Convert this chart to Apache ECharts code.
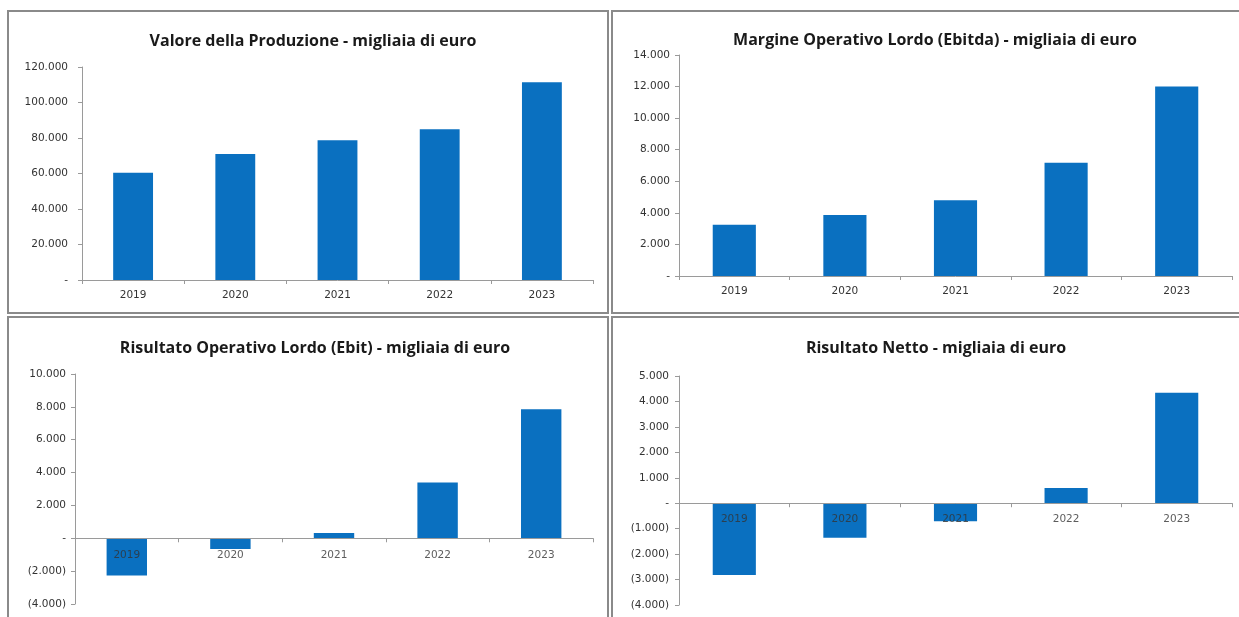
<!DOCTYPE html>
<html>
<head>
<meta charset="utf-8">
<script src="https://cdn.jsdelivr.net/npm/echarts@6/dist/echarts.min.js"></script>
<style>
html,body{margin:0;padding:0;background:#fff;}
#c{width:1239px;height:617px;}
</style>
</head>
<body>
<div id="c"></div>
<script>
const categories = ['2019','2020','2021','2022','2023'];
const titles = [
  'Valore della Produzione - migliaia di euro',
  'Margine Operativo Lordo (Ebitda) - migliaia di euro',
  'Risultato Operativo Lordo (Ebit) - migliaia di euro',
  'Risultato Netto - migliaia di euro'
];
const valoreProduzione = [60400, 71000, 78800, 85000, 111400];
const ebitda = [3250, 3870, 4800, 7180, 12000];
const ebit = [-2270, -650, 320, 3400, 7860];
const risultatoNetto = [-2820, -1360, -710, 600, 4340];
const yMin = [0, 0, -4000, -4000];
const yMax = [120000, 14000, 10000, 5000];
const yInterval = [20000, 2000, 2000, 1000];

const seriesData = [valoreProduzione, ebitda, ebit, risultatoNetto];
const hasNegatives = seriesData.map(d => d.some(v => v < 0));

function fmt(v){
  if (v === 0) return '-';
  const a = Math.abs(v).toString().replace(/\B(?=(\d{3})+(?!\d))/g, '.');
  return v < 0 ? '(' + a + ')' : a;
}

const grids = [
  {left: 82, top: 67, width: 511, height: 213, outerBoundsMode: 'none'},
  {left: 679, top: 55, width: 553, height: 221, outerBoundsMode: 'none'},
  {left: 75, top: 374, width: 518, height: 230, outerBoundsMode: 'none'},
  {left: 679, top: 376, width: 553, height: 229, outerBoundsMode: 'none'}
];
const yLabelMargin = [14, 9, 9, 10];
const titlePos = [
  {x: 308, y: 28}, {x: 930, y: 27}, {x: 310, y: 335}, {x: 931, y: 335}
];
const FONT = 'DejaVu Sans';
const TITLE_FONT = 'Open Sans';
const axisColor = '#9a9a9a';
const labelColor = '#333';

const barSeries = seriesData.map((d, i) => ({
  type: 'bar', xAxisIndex: i, yAxisIndex: i, data: d, barWidth: '39%',
  itemStyle: {color: '#0a70c0'}, z: 2
}));
// category labels placed just below the zero line for charts with negatives
const zeroLabelSeries = [];
seriesData.forEach((d, i) => {
  if (!hasNegatives[i]) return;
  zeroLabelSeries.push({
    type: 'scatter', xAxisIndex: i, yAxisIndex: i, symbolSize: 0, z: 5,
    data: categories.map(c => [c, 0]),
    label: {show: true, position: 'bottom', distance: 11, formatter: p => p.data[0],
      fontFamily: FONT, fontSize: 10.5, color: labelColor},
    silent: true
  });
});

const option = {
  animation: false,
  title: titles.map((t, i) => ({
    text: t, left: titlePos[i].x, top: titlePos[i].y, textAlign: 'center',
    textStyle: {fontFamily: TITLE_FONT, fontSize: 16, fontWeight: 'bold', color: '#1a1a1a'}
  })),
  grid: grids,
  xAxis: grids.map((g, i) => ({
    type: 'category', gridIndex: i, data: categories, z: 10,
    axisLine: {show: true, onZero: true, lineStyle: {color: axisColor, width: 1}},
    axisTick: {show: true, length: 4, lineStyle: {color: axisColor}},
    axisLabel: {show: !hasNegatives[i], fontFamily: FONT, fontSize: 10.5, color: labelColor, margin: 10}
  })),
  yAxis: grids.map((g, i) => ({
    type: 'value', gridIndex: i, min: yMin[i], max: yMax[i], interval: yInterval[i],
    splitLine: {show: false},
    axisLine: {show: true, lineStyle: {color: axisColor, width: 1}},
    axisTick: {show: true, length: 4, lineStyle: {color: axisColor}},
    axisLabel: {fontFamily: FONT, fontSize: 10.5, color: labelColor, margin: yLabelMargin[i], formatter: fmt}
  })),
  series: barSeries.concat(zeroLabelSeries),
  graphic: [
    {type: 'rect', shape: {x: 8, y: 11, width: 600, height: 302}, style: {fill: 'none', stroke: '#8a8a8a', lineWidth: 2}, z: 100},
    {type: 'rect', shape: {x: 612, y: 11, width: 640, height: 302}, style: {fill: 'none', stroke: '#8a8a8a', lineWidth: 2}, z: 100},
    {type: 'rect', shape: {x: 8, y: 317, width: 600, height: 320}, style: {fill: 'none', stroke: '#8a8a8a', lineWidth: 2}, z: 100},
    {type: 'rect', shape: {x: 612, y: 317, width: 640, height: 320}, style: {fill: 'none', stroke: '#8a8a8a', lineWidth: 2}, z: 100}
  ]
};
const chart = echarts.init(document.getElementById('c'));
chart.setOption(option);
</script>
</body>
</html>
